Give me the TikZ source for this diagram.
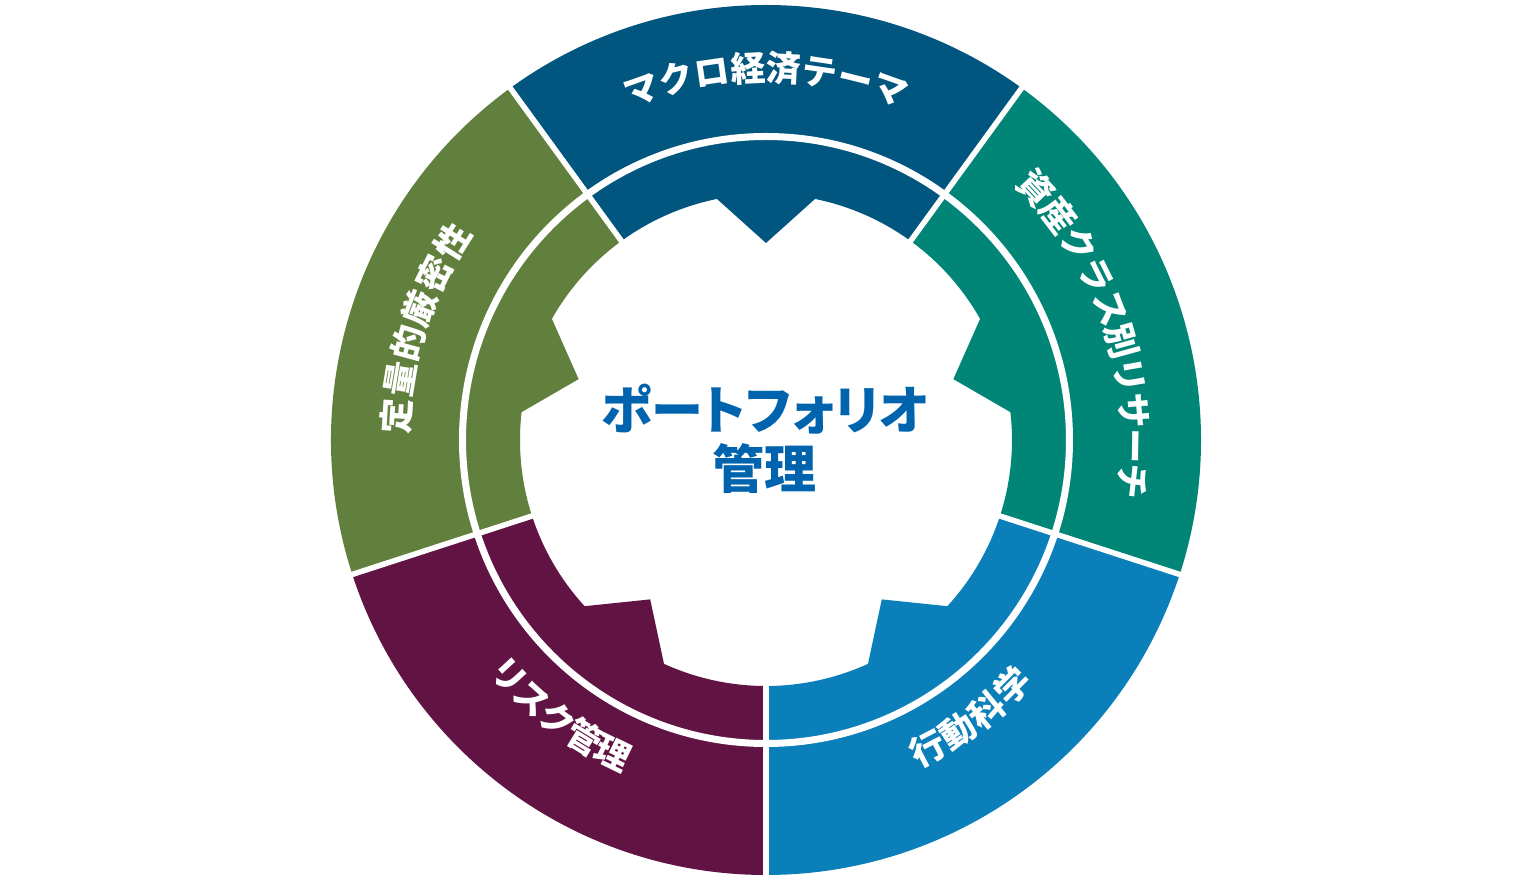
\documentclass[tikz,border=0pt]{standalone}
\usepackage{fontspec}
\newfontfamily\jp{Noto Sans CJK JP}
\definecolor{cMacro}{HTML}{00567E}
\definecolor{cAsset}{HTML}{008576}
\definecolor{cBehav}{HTML}{0B7FBA}
\definecolor{cRisk}{HTML}{611444}
\definecolor{cQuant}{HTML}{62803D}
\definecolor{cTitle}{HTML}{0063AE}
\tikzset{
  lbl/.style={text=white, font=\jp\bfseries\fontsize{35}{35}\selectfont, inner sep=0pt, text height=0.88em, text depth=0.12em, anchor=center},
  gapline/.style={white, line width=5.5pt},
  ringline/.style={white, line width=7pt},
  titletext/.style={text=cTitle, font=\jp\bfseries\fontsize{52}{59}\selectfont, align=center, inner sep=0pt},
}
% color, start angle, end angle
\newcommand\ringseg[3]{%
  \pgfmathsetmacro\sa{#2}\pgfmathsetmacro\sb{#3}\pgfmathsetmacro\sc{(#2+#3)/2}%
  \pgfmathsetmacro\sl{\sc-11.5}\pgfmathsetmacro\sr{\sc+11.5}%
  \fill[#1] (\sa:435pt) arc[start angle=\sa, end angle=\sb, radius=435pt]
    -- (\sb:246pt) arc[start angle=\sb, end angle=\sr, radius=246pt]
    -- (\sc:197pt) -- (\sl:246pt) arc[start angle=\sl, end angle=\sa, radius=246pt] -- cycle;
}
% name, start angle, pitch, rotation offset, radius, chars
\newcommand\arclabel[6]{%
  \foreach \ch [count=\i] in {#6} {
    \pgfmathsetmacro\ang{#2+(\i-1)*(#3)}
    \pgfmathsetmacro\rot{\ang+#4}
    \node[lbl, rotate=\rot] (#1-\i) at (\ang:#5pt) {\ch};
  }%
}
\begin{document}
\begin{tikzpicture}
\useasboundingbox (-766pt,-440pt) rectangle (766pt,440pt);
\fill[white] (-766pt,-440pt) rectangle (766pt,440pt);
\ringseg{cMacro}{54}{126}
\ringseg{cQuant}{126}{198}
\ringseg{cRisk}{198}{270}
\ringseg{cBehav}{270}{342}
\ringseg{cAsset}{342}{414}
\foreach \a in {54,126,198,270,342}
  \draw[gapline] (\a:238pt) -- (\a:442pt);
\draw[ringline] (0,0) circle[radius=303.5pt];
\arclabel{macro}{109.5}{-5.57}{-90}{363}{マ,ク,ロ,経,済,テ,ー,マ}
\arclabel{asset}{43}{-5.5}{-90}{360}{資,産,ク,ラ,ス,別,リ,サ,ー,チ}
\arclabel{quant}{176.3}{-5.72}{-90}{361}{定,量,的,厳,密,性}
\arclabel{behav}{-62.4}{5.83}{90}{358}{行,動,科,学}
\arclabel{risk}{222.6}{5.35}{90}{358}{リ,ス,ク,管,理}
\node[titletext] (title) at (-1pt,1pt) {{\addfontfeatures{RawFeature=+palt}ポートフォリオ}\\管理};
\end{tikzpicture}
\end{document}
